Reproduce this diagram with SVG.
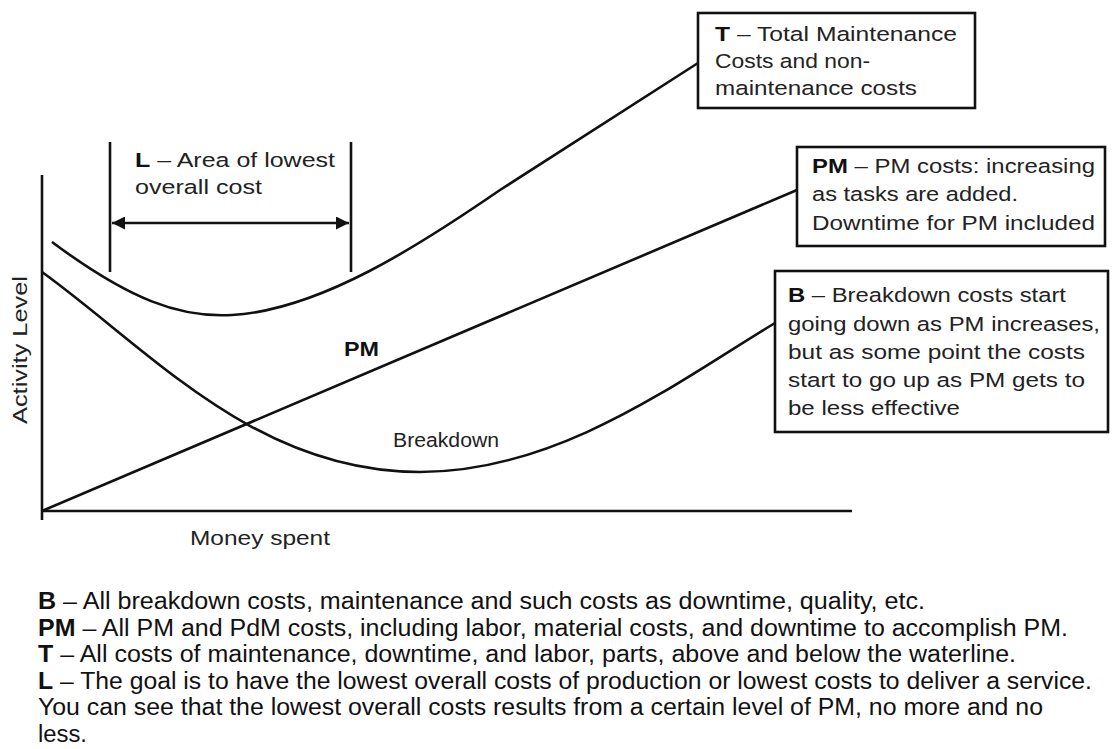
<svg xmlns="http://www.w3.org/2000/svg" width="1112" height="749" viewBox="0 0 1112 749">
<style>
.ln{fill:none;stroke:#111;stroke-width:2.6}
.box{fill:#fff;stroke:#111;stroke-width:2.6}
.t{font-family:"Liberation Sans",Arial,sans-serif;font-size:20.5px;fill:#222}
.b{font-weight:bold;fill:#111}
.ft{font-family:"Liberation Sans",Arial,sans-serif;font-size:23px;fill:#111}
</style>
<defs>
<marker id="ah" viewBox="0 0 10 10" refX="10" refY="5" markerWidth="9" markerHeight="5" markerUnits="strokeWidth" orient="auto-start-reverse">
<path d="M0,0 L10,5 L0,10 z" fill="#111"/>
</marker>
</defs>
<rect width="1112" height="749" fill="#fff"/>
<g id="axes">
<line class="ln" x1="42" y1="175" x2="42" y2="520"/>
<line class="ln" x1="41" y1="511" x2="852" y2="511"/>
<text class="t" transform="translate(27,350) rotate(-90)" text-anchor="middle" textLength="148" lengthAdjust="spacingAndGlyphs">Activity Level</text>
<text class="t" x="190" y="545" textLength="140" lengthAdjust="spacingAndGlyphs">Money spent</text>
</g>
<g id="connectors">
<path id="curve-T" class="ln" d="M52,242 C130,300 180,318 232,315 C320,310 420,245 500,190 L698,63"/>
<path id="curve-PM" class="ln" d="M42,511 L797,190"/>
<path id="curve-B" class="ln" d="M42,272 C150,350 255,472 420,472 C560,472 680,380 775,323"/>
</g>
<g id="curve-labels">
<text class="t b" x="344" y="356" textLength="35" lengthAdjust="spacingAndGlyphs">PM</text>
<text class="t" x="393" y="447" textLength="106" lengthAdjust="spacingAndGlyphs">Breakdown</text>
</g>
<g id="L-area">
<line class="ln" x1="110" y1="142" x2="110" y2="272"/>
<line class="ln" x1="351" y1="142" x2="351" y2="272"/>
<line class="ln" x1="112" y1="223" x2="349" y2="223" marker-start="url(#ah)" marker-end="url(#ah)"/>
<text class="t" x="135" y="167" textLength="200" lengthAdjust="spacingAndGlyphs"><tspan class="b">L</tspan> – Area of lowest</text>
<text class="t" x="135" y="194" textLength="127" lengthAdjust="spacingAndGlyphs">overall cost</text>
</g>
<g id="box-T">
<rect class="box" x="698" y="13" width="277" height="95"/>
<text class="t" x="715" y="41" textLength="242" lengthAdjust="spacingAndGlyphs"><tspan class="b">T</tspan> – Total Maintenance</text>
<text class="t" x="715" y="68" textLength="155" lengthAdjust="spacingAndGlyphs">Costs and non-</text>
<text class="t" x="715" y="95" textLength="202" lengthAdjust="spacingAndGlyphs">maintenance costs</text>
</g>
<g id="box-PM">
<rect class="box" x="797" y="147" width="308" height="99"/>
<text class="t" x="812" y="173" textLength="283" lengthAdjust="spacingAndGlyphs"><tspan class="b">PM</tspan> – PM costs: increasing</text>
<text class="t" x="812" y="201" textLength="206" lengthAdjust="spacingAndGlyphs">as tasks are added.</text>
<text class="t" x="812" y="230" textLength="283" lengthAdjust="spacingAndGlyphs">Downtime for PM included</text>
</g>
<g id="box-B">
<rect class="box" x="775" y="271" width="333" height="161"/>
<text class="t" x="788" y="302" textLength="278" lengthAdjust="spacingAndGlyphs"><tspan class="b">B</tspan> – Breakdown costs start</text>
<text class="t" x="788" y="331" textLength="312" lengthAdjust="spacingAndGlyphs">going down as PM increases,</text>
<text class="t" x="788" y="359" textLength="297" lengthAdjust="spacingAndGlyphs">but as some point the costs</text>
<text class="t" x="788" y="387" textLength="297" lengthAdjust="spacingAndGlyphs">start to go up as PM gets to</text>
<text class="t" x="788" y="415" textLength="172" lengthAdjust="spacingAndGlyphs">be less effective</text>
</g>
<g id="footnotes">
<text class="ft" x="38" y="609" textLength="887" lengthAdjust="spacingAndGlyphs"><tspan class="b">B</tspan> – All breakdown costs, maintenance and such costs as downtime, quality, etc.</text>
<text class="ft" x="38" y="636" textLength="1030" lengthAdjust="spacingAndGlyphs"><tspan class="b">PM</tspan> – All PM and PdM costs, including labor, material costs, and downtime to accomplish PM.</text>
<text class="ft" x="38" y="662" textLength="978" lengthAdjust="spacingAndGlyphs"><tspan class="b">T</tspan> – All costs of maintenance, downtime, and labor, parts, above and below the waterline.</text>
<text class="ft" x="38" y="689" textLength="1054" lengthAdjust="spacingAndGlyphs"><tspan class="b">L</tspan> – The goal is to have the lowest overall costs of production or lowest costs to deliver a service.</text>
<text class="ft" x="38" y="715" textLength="1005" lengthAdjust="spacingAndGlyphs">You can see that the lowest overall costs results from a certain level of PM, no more and no</text>
<text class="ft" x="38" y="742" textLength="49" lengthAdjust="spacingAndGlyphs">less.</text>
</g>
</svg>
